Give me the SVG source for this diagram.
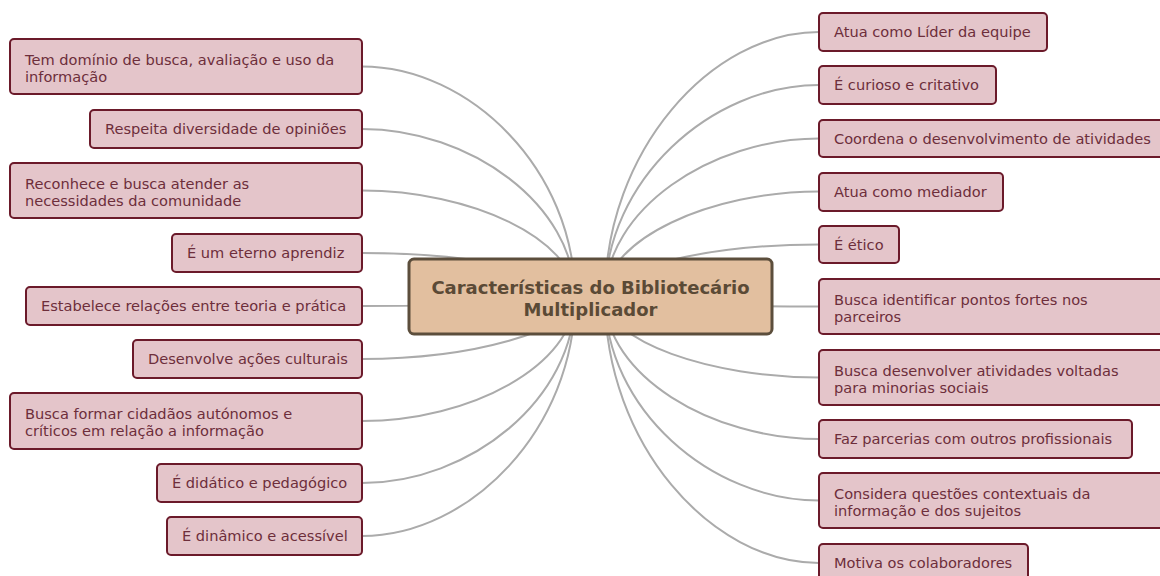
<svg xmlns="http://www.w3.org/2000/svg" width="1160" height="576" viewBox="0 0 1160 576">
<style>
.bg{fill:#ffffff}
.c{fill:none;stroke:#ababab;stroke-width:2}
.n rect{fill:#e4c5ca;stroke:#6b1a2a;stroke-width:2}
.n text{font-family:"DejaVu Sans",Verdana,sans-serif;font-size:14.6px;fill:#6d2e3b}
.root rect{fill:#e2bf9f;stroke:#5c4e3c;stroke-width:3}
.root text{font-family:"DejaVu Sans",Verdana,sans-serif;font-size:18px;font-weight:bold;fill:#5b4a36;text-anchor:middle}
</style>
<rect class="bg" x="0" y="0" width="1160" height="576"/>
<g id="connectors">
<path class="c" d="M362,66.5 C470,66.5 575,170.2 575,297"/>
<path class="c" d="M362,129 C470,129 575,204.6 575,297"/>
<path class="c" d="M362,190.5 C470,190.5 575,238.4 575,297"/>
<path class="c" d="M362,253 C470,253 575,272.8 575,297"/>
<path class="c" d="M362,306 C470,306 575,302 575,297"/>
<path class="c" d="M362,359 C470,359 575,331.1 575,297"/>
<path class="c" d="M362,421 C470,421 575,365.2 575,297"/>
<path class="c" d="M362,483 C470,483 575,399.3 575,297"/>
<path class="c" d="M362,536 C470,536 575,428.5 575,297"/>
<path class="c" d="M819,32 C711,32 605,151.3 605,297"/>
<path class="c" d="M819,85 C711,85 605,180.4 605,297"/>
<path class="c" d="M819,138.5 C711,138.5 605,209.8 605,297"/>
<path class="c" d="M819,191.5 C711,191.5 605,239 605,297"/>
<path class="c" d="M819,244.5 C711,244.5 605,268.1 605,297"/>
<path class="c" d="M819,306.5 C711,306.5 605,302.2 605,297"/>
<path class="c" d="M819,377.5 C711,377.5 605,341.3 605,297"/>
<path class="c" d="M819,439 C711,439 605,375.1 605,297"/>
<path class="c" d="M819,500.5 C711,500.5 605,408.9 605,297"/>
<path class="c" d="M819,563 C711,563 605,443.3 605,297"/>
</g>
<g id="root" class="root">
<rect x="409" y="259" width="363" height="75" rx="5"/>
<text x="590.5" y="294">Características do Bibliotecário</text>
<text x="590.5" y="316">Multiplicador</text>
</g>
<g id="l1" class="n"><rect x="10" y="39" width="352" height="55" rx="4"/><text x="25" y="65">Tem domínio de busca, avaliação e uso da</text><text x="25" y="82">informação</text></g>
<g id="l2" class="n"><rect x="90" y="110" width="272" height="38" rx="4"/><text x="105" y="134">Respeita diversidade de opiniões</text></g>
<g id="l3" class="n"><rect x="10" y="163" width="352" height="55" rx="4"/><text x="25" y="189">Reconhece e busca atender as</text><text x="25" y="206">necessidades da comunidade</text></g>
<g id="l4" class="n"><rect x="172" y="234" width="190" height="38" rx="4"/><text x="187" y="258">É um eterno aprendiz</text></g>
<g id="l5" class="n"><rect x="26" y="287" width="336" height="38" rx="4"/><text x="41" y="311">Estabelece relações entre teoria e prática</text></g>
<g id="l6" class="n"><rect x="133" y="340" width="229" height="38" rx="4"/><text x="148" y="364">Desenvolve ações culturais</text></g>
<g id="l7" class="n"><rect x="10" y="393" width="352" height="56" rx="4"/><text x="25" y="419">Busca formar cidadãos autónomos e</text><text x="25" y="436">críticos em relação a informação</text></g>
<g id="l8" class="n"><rect x="157" y="464" width="205" height="38" rx="4"/><text x="172" y="488">É didático e pedagógico</text></g>
<g id="l9" class="n"><rect x="167" y="517" width="195" height="38" rx="4"/><text x="182" y="541">É dinâmico e acessível</text></g>
<g id="r1" class="n"><rect x="819" y="13" width="228" height="38" rx="4"/><text x="834" y="37">Atua como Líder da equipe</text></g>
<g id="r2" class="n"><rect x="819" y="66" width="177" height="38" rx="4"/><text x="834" y="90">É curioso e critativo</text></g>
<g id="r3" class="n"><rect x="819" y="120" width="350" height="37" rx="4"/><text x="834" y="144">Coordena o desenvolvimento de atividades</text></g>
<g id="r4" class="n"><rect x="819" y="173" width="184" height="38" rx="4"/><text x="834" y="197">Atua como mediador</text></g>
<g id="r5" class="n"><rect x="819" y="226" width="80" height="37" rx="4"/><text x="834" y="250">É ético</text></g>
<g id="r6" class="n"><rect x="819" y="279" width="350" height="55" rx="4"/><text x="834" y="305">Busca identificar pontos fortes nos</text><text x="834" y="322">parceiros</text></g>
<g id="r7" class="n"><rect x="819" y="350" width="350" height="55" rx="4"/><text x="834" y="376">Busca desenvolver atividades voltadas</text><text x="834" y="393">para minorias sociais</text></g>
<g id="r8" class="n"><rect x="819" y="420" width="313" height="38" rx="4"/><text x="834" y="444">Faz parcerias com outros profissionais</text></g>
<g id="r9" class="n"><rect x="819" y="473" width="350" height="55" rx="4"/><text x="834" y="499">Considera questões contextuais da</text><text x="834" y="516">informação e dos sujeitos</text></g>
<g id="r10" class="n"><rect x="819" y="544" width="209" height="40" rx="4"/><text x="834" y="568">Motiva os colaboradores</text></g>
</svg>
